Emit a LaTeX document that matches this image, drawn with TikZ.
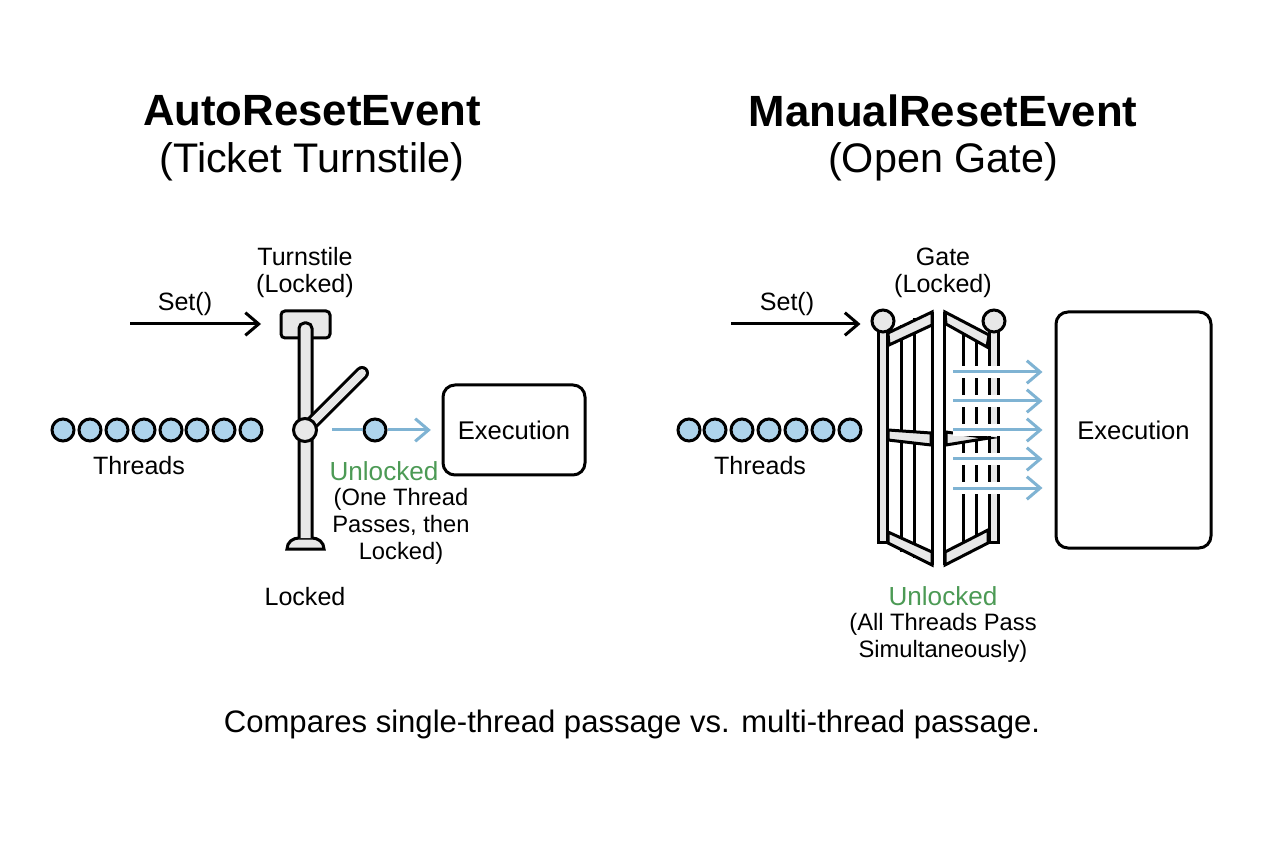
\documentclass[tikz,border=0pt]{standalone}
\usepackage{fontspec}
\setmainfont{Liberation Sans}
\usetikzlibrary{arrows.meta}
\definecolor{threadblue}{HTML}{AED4EC}
\definecolor{flowblue}{HTML}{7FB3D3}
\definecolor{unlockgreen}{HTML}{4C9A55}
\definecolor{partgray}{HTML}{E8E8E8}
\tikzset{
  every picture/.style={line width=0.75pt},
  titlelabel/.style={font=\fontsize{32.8}{38}\selectfont\bfseries},
  sublabel/.style={font=\fontsize{31}{36}\selectfont},
  smalllabel/.style={font=\fontsize{18.8}{20.25}\selectfont,align=center,inner sep=0pt},
  notelabel/.style={font=\fontsize{17.8}{20.25}\selectfont,align=center,inner sep=0pt},
  greenlabel/.style={font=\fontsize{19.6}{20.25}\selectfont,text=unlockgreen,inner sep=0pt},
  threaddot/.style={circle,draw=black,fill=threadblue,line width=2.25pt,minimum size=22*0.75pt,inner sep=0pt},
  hubdot/.style={circle,draw=black,fill=partgray,line width=2.25pt,minimum size=23*0.75pt,inner sep=0pt},
  execbox/.style={draw=black,fill=white,line width=2.25pt,rounded corners=9pt,inner sep=0pt,font=\fontsize{19.2}{22}\selectfont},
  setarrow/.style={line width=2.25pt,-{Straight Barb[length=10pt,width=17pt,line width=2.25pt]}},
  flowarrow/.style={flowblue,line width=2.25pt,-{Straight Barb[length=10pt,width=17pt,line width=2.25pt]}},
  gateflow/.style={flowarrow,preaction={draw=white,line width=9pt,-}},
  partline/.style={draw=black,fill=partgray,line width=2.25pt,line join=miter},
  barline/.style={draw=black,line width=2.25pt},
}
\begin{document}
\begin{tikzpicture}[x=0.75pt,y=0.75pt,yscale=-1,xscale=1]
\useasboundingbox (0,0) rectangle (1264,848);
% Text Node titles
\node[titlelabel] (titleauto) at (312,111) {AutoResetEvent};
\node[sublabel] (subauto) at (312,162) {(Ticket Turnstile)};
\node[titlelabel] (titlemanual) at (943,111) {ManualResetEvent};
\node[sublabel] (submanual) at (943,162) {(Open Gate)};
%Shape: Turnstile head
\draw[partline,rounded corners=3pt] (281,311) rectangle (330,338);
%Shape: Turnstile base
\draw[partline] (287,549) -- (324,549) .. controls (324,542) and (318,538) .. (312,538) -- (299,538) .. controls (293,538) and (287,542) .. (287,549) -- cycle;
%Shape: Turnstile pole
\draw[partline,rounded corners=4pt] (299,538) -- (299,323) -- (312,323) -- (312,538);
%Shape: Turnstile arm
\draw[line width=10.5pt,line cap=round] (305,430) -- (362,373);
\draw[partgray,line width=6pt,line cap=round] (305,430) -- (362,373);
% Text Node turnstile labels
\node[smalllabel] (labturn) at (305,273) {Turnstile\\(Locked)};
\node[smalllabel] (setauto) at (185,304) {Set()};
\node[smalllabel] (thrauto) at (139,466) {Threads};
\node[smalllabel] (labstuck) at (305,597) {Locked};
\node[greenlabel] (unlauto) at (384,471) {Unlocked};
\node[notelabel] (passauto) at (401,526) {(One Thread\\Passes, then\\Locked)};
%Shape: Hub and queue
\node[hubdot] (hub) at (305,430) {};
\node[threaddot] (ta1) at (63,430) {};
\node[threaddot] (ta2) at (90,430) {};
\node[threaddot] (ta3) at (117,430) {};
\node[threaddot] (ta4) at (144,430) {};
\node[threaddot] (ta5) at (171,430) {};
\node[threaddot] (ta6) at (197,430) {};
\node[threaddot] (ta7) at (224,430) {};
\node[threaddot] (ta8) at (251,430) {};
\node[threaddot] (passing) at (375,430) {};
%Shape: Execution left
\node[execbox,minimum width=142*0.75pt,minimum height=90*0.75pt] (execauto) at (514,430) {Execution};
% Arrows left
\coordinate (setautostart) at (130,324);
\coordinate (turnhead) at (281,324);
\coordinate (flowstart) at (332,430);
\draw[setarrow,shorten >=15pt] (setautostart) -- (turnhead);
\draw[flowblue,line width=2.25pt] (flowstart) -- (passing);
\draw[flowarrow,shorten >=8pt] (passing) -- (execauto);
%Shape: Gate left post
\draw[partline] (878,330) rectangle (887,542);
\node[hubdot,minimum size=22*0.75pt] (ballleft) at (883,321) {};
%Shape: Gate left bars
\draw[barline] (901,325) -- (901,552);
\draw[barline] (914,318) -- (914,558);
%Shape: Gate left rails
\draw[partline] (888,333) -- (932,312) -- (932,325) -- (889,345) -- cycle;
\draw[partline] (888,532) -- (932,552) -- (932,565) -- (888,543) -- cycle;
\draw[partline] (888,430) -- (931,433) -- (931,445) -- (888,440) -- cycle;
\draw[barline] (932,312) -- (932,565);
%Shape: Gate right post
\draw[partline] (989,330) rectangle (998,542);
\node[hubdot,minimum size=22*0.75pt] (ballright) at (994,321) {};
%Shape: Gate right bars
\draw[barline] (963,325) -- (963,552);
\draw[barline] (976,332) -- (976,545);
%Shape: Gate right rails
\draw[partline] (945,312) -- (989,335) -- (987,347) -- (946,324) -- cycle;
\draw[partline] (945,552) -- (988,530) -- (988,543) -- (945,565) -- cycle;
\draw[partline] (946,432) -- (989,438) -- (946,445) -- cycle;
\draw[barline] (944,312) -- (944,565);
% Text Node gate labels
\node[smalllabel] (labgate) at (943,273) {Gate\\(Locked)};
\node[smalllabel] (setman) at (787,304) {Set()};
\node[smalllabel] (thrman) at (760,466) {Threads};
\node[greenlabel] (unlman) at (943,596) {Unlocked};
\node[notelabel] (passman) at (943,638) {(All Threads Pass\\Simultaneously)};
%Shape: Queue right
\node[threaddot] (tb1) at (689,430) {};
\node[threaddot] (tb2) at (715,430) {};
\node[threaddot] (tb3) at (742,430) {};
\node[threaddot] (tb4) at (769,430) {};
\node[threaddot] (tb5) at (796,430) {};
\node[threaddot] (tb6) at (823,430) {};
\node[threaddot] (tb7) at (850,430) {};
%Shape: Execution right
\node[execbox,minimum width=155*0.75pt,minimum height=236*0.75pt] (execman) at (1133.5,430) {Execution};
% Arrows right
\coordinate (setmanstart) at (731,324);
\draw[setarrow,shorten >=7.5pt] (setmanstart) -- (ballleft.west |- setmanstart);
\coordinate (flowa) at (953,372);
\coordinate (flowb) at (953,401);
\coordinate (flowc) at (953,430);
\coordinate (flowd) at (953,459);
\coordinate (flowe) at (953,488);
\draw[gateflow,shorten >=9pt] (flowa) -- (flowa -| execman.west);
\draw[gateflow,shorten >=9pt] (flowb) -- (flowb -| execman.west);
\draw[gateflow,shorten >=9pt] (flowc) -- (execman);
\draw[gateflow,shorten >=9pt] (flowd) -- (flowd -| execman.west);
\draw[gateflow,shorten >=9pt] (flowe) -- (flowe -| execman.west);
% Text Node caption
\node[font=\fontsize{23.3}{26}\selectfont] (caption) at (632,724) {Compares single-thread passage vs. multi-thread passage.};
\end{tikzpicture}
\end{document}
